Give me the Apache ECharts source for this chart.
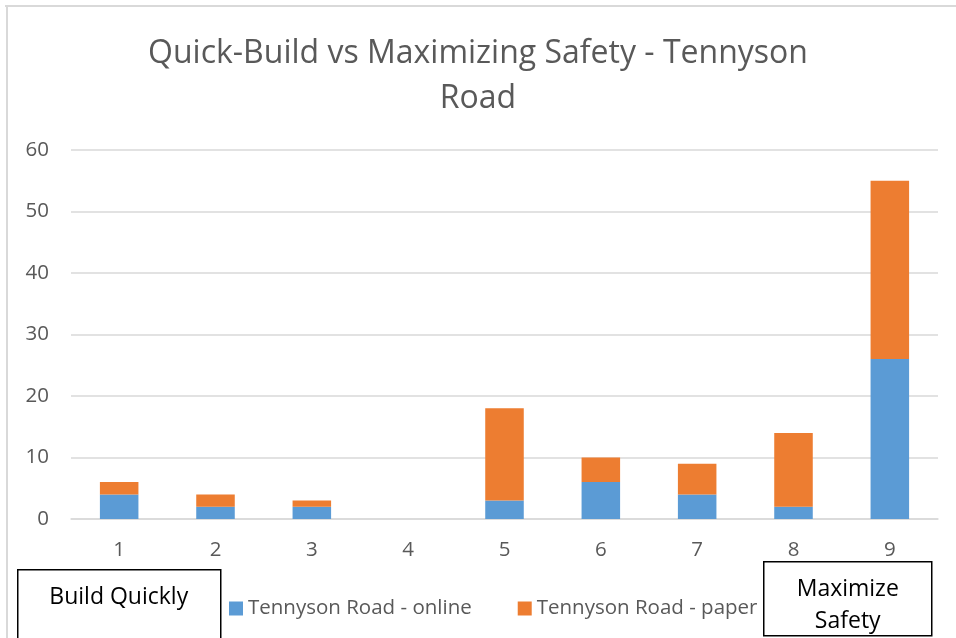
<!DOCTYPE html>
<html>
<head>
<meta charset="utf-8">
<title>Quick-Build vs Maximizing Safety - Tennyson Road</title>
<script src="https://cdn.jsdelivr.net/npm/echarts@6/dist/echarts.min.js"></script>
<style>
  html, body { margin: 0; padding: 0; background: #fff; }
  #chart { width: 956px; height: 638px; }
</style>
</head>
<body>
<div id="chart"></div>
<script>
// survey scale 1 (build quickly) .. 9 (maximize safety)
const categories = ['1', '2', '3', '4', '5', '6', '7', '8', '9'];
const seriesNames = ['Tennyson Road - online', 'Tennyson Road - paper'];
const onlineCounts = [4, 2, 2, 0, 3, 6, 4, 2, 26];
const paperCounts = [2, 2, 1, 0, 15, 4, 5, 12, 29];
const yTicks = [0, 10, 20, 30, 40, 50, 60];

const font = '"Open Sans", "Liberation Sans", sans-serif';
const grey = '#595959';

const chart = echarts.init(document.getElementById('chart'));

chart.setOption({
  animation: false,
  title: {
    text: 'Quick-Build vs Maximizing Safety - Tennyson\nRoad',
    left: 'center',
    top: 26,
    textStyle: {
      fontFamily: font,
      fontSize: 32,
      fontWeight: 'normal',
      color: grey,
      lineHeight: 45
    }
  },
  legend: {
    data: seriesNames,
    left: 224,
    top: 593,
    itemWidth: 14,
    itemHeight: 14,
    itemGap: 46,
    icon: 'rect',
    textStyle: { fontFamily: font, fontSize: 20.5, color: grey }
  },
  grid: {
    left: 71,
    right: 18,
    top: 150,
    bottom: 119
  },
  xAxis: {
    type: 'category',
    data: categories,
    axisLine: { lineStyle: { color: '#d9d9d9', width: 1.5 } },
    axisTick: { show: false },
    axisLabel: { fontFamily: font, fontSize: 20.5, color: grey, margin: 21 }
  },
  yAxis: {
    type: 'value',
    min: yTicks[0],
    max: yTicks[yTicks.length - 1],
    interval: 10,
    axisLine: { show: false },
    axisTick: { show: false },
    splitLine: { lineStyle: { color: '#d9d9d9', width: 1.5 } },
    axisLabel: { fontFamily: font, fontSize: 20.5, color: grey, margin: 22 }
  },
  series: [
    {
      name: seriesNames[0],
      type: 'bar',
      stack: 'total',
      barWidth: '40%',
      data: onlineCounts,
      itemStyle: { color: '#5b9bd5' }
    },
    {
      name: seriesNames[1],
      type: 'bar',
      stack: 'total',
      barWidth: '40%',
      data: paperCounts,
      itemStyle: { color: '#ed7d31' }
    }
  ],
  graphic: [
    // chart frame (top and left edges visible)
    { type: 'line', shape: { x1: 5, y1: 6, x2: 956, y2: 6 }, style: { stroke: '#d9d9d9', lineWidth: 2 } },
    { type: 'line', shape: { x1: 7, y1: 5, x2: 7, y2: 638 }, style: { stroke: '#d9d9d9', lineWidth: 2 } },
    // annotation boxes
    {
      type: 'group',
      left: 17, top: 569,
      children: [
        { type: 'rect', shape: { x: 0, y: 0, width: 203, height: 80 }, style: { fill: '#fff', stroke: '#000', lineWidth: 1.5 } },
        { type: 'text', style: { x: 101, y: 28, text: 'Build Quickly', align: 'center', verticalAlign: 'middle', font: '23px ' + font, fill: '#000' } }
      ]
    },
    {
      type: 'group',
      left: 763, top: 561,
      children: [
        { type: 'rect', shape: { x: 0, y: 0, width: 168, height: 74 }, style: { fill: '#fff', stroke: '#000', lineWidth: 1.5 } },
        { type: 'text', style: { x: 84, y: 44, text: 'Maximize\nSafety', align: 'center', verticalAlign: 'middle', lineHeight: 32, font: '23px ' + font, fill: '#000' } }
      ]
    }
  ]
});
</script>
</body>
</html>
